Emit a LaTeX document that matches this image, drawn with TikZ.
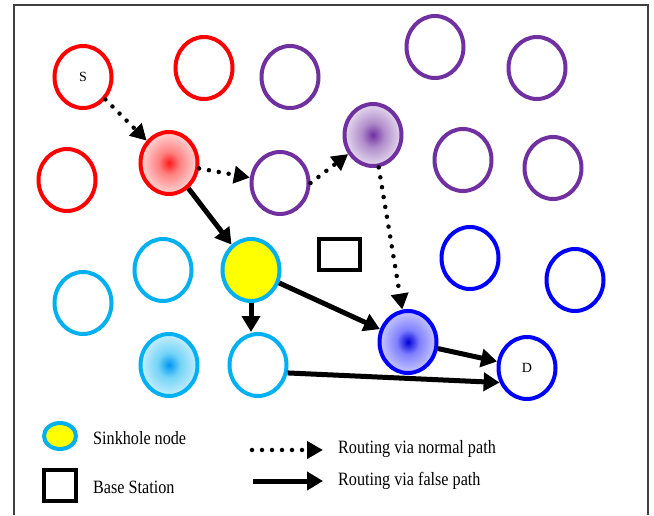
\documentclass[tikz,border=0pt]{standalone}
\usepackage{fontspec}
\setmainfont{Liberation Serif}
\newfontfamily\legendfont[FakeStretch=0.86]{Liberation Serif}
\usetikzlibrary{shapes.geometric,arrows.meta}

\definecolor{nred}{HTML}{FF0000}
\definecolor{npurple}{HTML}{7030A0}
\definecolor{ncyan}{HTML}{00B0F0}
\definecolor{nblue}{HTML}{0000FF}
\definecolor{nyellow}{HTML}{FFFF00}

% glowing fills for the active nodes: strong centre, soft rim
\pgfdeclareradialshading{glowred}{\pgfpoint{0bp}{0bp}}{%
  color(0bp)=(nred!90!white); color(9bp)=(nred!50!white);
  color(25bp)=(nred!16!white); color(50bp)=(nred!16!white)}
\pgfdeclareradialshading{glowpurple}{\pgfpoint{0bp}{0bp}}{%
  color(0bp)=(npurple); color(10bp)=(npurple!55!white);
  color(25bp)=(npurple!18!white); color(50bp)=(npurple!18!white)}
\pgfdeclareradialshading{glowblue}{\pgfpoint{0bp}{0bp}}{%
  color(0bp)=(nblue!85!black); color(10bp)=(nblue!50!white);
  color(25bp)=(nblue!22!white); color(50bp)=(nblue!22!white)}
\pgfdeclareradialshading{glowcyan}{\pgfpoint{0bp}{0bp}}{%
  color(0bp)=(ncyan!85!blue); color(10bp)=(ncyan!55!white);
  color(25bp)=(ncyan!22!white); color(50bp)=(ncyan!22!white)}

\begin{document}
\begin{tikzpicture}[x=1pt,y=-1pt,
  sensor/.style={ellipse, draw, line width=4pt, minimum width=57pt,
    minimum height=62pt, inner sep=0pt, fill=white},
  redn/.style={sensor, draw=nred},
  purplen/.style={sensor, draw=npurple},
  cyann/.style={sensor, draw=ncyan},
  bluen/.style={sensor, draw=nblue},
  hotred/.style={redn, shading=glowred},
  hotpurple/.style={purplen, shading=glowpurple},
  hotblue/.style={bluen, shading=glowblue},
  hotcyan/.style={cyann, shading=glowcyan},
  sinkhole/.style={cyann, fill=nyellow},
  basestation/.style={draw, line width=4pt, inner sep=0pt},
  tag/.style={font=\fontsize{14}{14}\selectfont},
  legendtext/.style={anchor=west, inner sep=0pt,
    font=\legendfont\fontsize{18.8}{19}\selectfont},
  normalpath/.style={line width=4.5pt, line cap=round,
    dash pattern=on 0pt off 10pt,
    -{Triangle[length=16pt,width=17pt]}},
  falsepath/.style={line width=5pt,
    -{Triangle[length=16pt,width=18pt]}}
]
\useasboundingbox (0,0) rectangle (654,515);

% outer frame (open at the bottom)
\draw[line width=1.2pt, black!75] (14,515) -- (14,5) -- (648,5) -- (648,515);

% red cluster
\node[redn] (S) at (83,77) {};
\node[tag] at (S) {S};
\node[redn] (r2) at (204,68) {};
\node[redn] (r3) at (67,180) {};
\node[hotred] (rf) at (169,163) {};

% purple cluster
\node[purplen] (p1) at (290,77) {};
\node[purplen] (p2) at (435,47) {};
\node[purplen] (p3) at (537,68) {};
\node[hotpurple] (pf) at (373,135) {};
\node[purplen] (p4) at (280,183) {};
\node[purplen] (p5) at (463,160) {};
\node[purplen] (p6) at (553,168) {};

% cyan cluster
\node[cyann] (c1) at (83,303) {};
\node[cyann] (c2) at (163,270) {};
\node[sinkhole] (y) at (251,270) {};
\node[hotcyan] (cf) at (169,365) {};
\node[cyann] (c5) at (258,365) {};

% blue cluster
\node[bluen] (b1) at (470,258) {};
\node[bluen] (b2) at (575,280) {};
\node[hotblue] (bf) at (408,342) {};
\node[bluen] (D) at (527,368) {};
\node[tag] at (D) {D};

% base station
\node[basestation, minimum width=41pt, minimum height=31pt] (bs) at (339.5,254.5) {};

% routing via normal path
\draw[normalpath] (S) -- (rf);
\draw[normalpath] (rf) -- (p4);
\draw[normalpath] (p4.east) -- (pf);
\draw[normalpath] (pf.-80) -- (bf.100);

% routing via false path
\draw[falsepath] (rf) -- (y);
\draw[falsepath] (y.south) -- (y.south |- c5.north);
\draw[falsepath] (y) -- (bf);
\draw[falsepath] (bf) -- (D);
\draw[falsepath] (c5.-15) -- (D.208);

% legend
\node[sinkhole, minimum width=32pt, minimum height=26pt] (lg1) at (60,436) {};
\node[legendtext] (lt1) at (93,438) {Sinkhole node};
\node[basestation, minimum width=32pt, minimum height=31pt] (lg2) at (60,485) {};
\node[legendtext] (lt2) at (93,487) {Base Station};

\coordinate (na) at (252,450);
\coordinate (nb) at (323,450);
\coordinate (fa) at (253,481);
\coordinate (fb) at (323,481);
\draw[normalpath] (na) -- (nb);
\draw[falsepath] (fa) -- (fb);
\node[legendtext] (lt3) at (338,449) {Routing via normal path};
\node[legendtext] (lt4) at (338,481) {Routing via false path};
\end{tikzpicture}
\end{document}
